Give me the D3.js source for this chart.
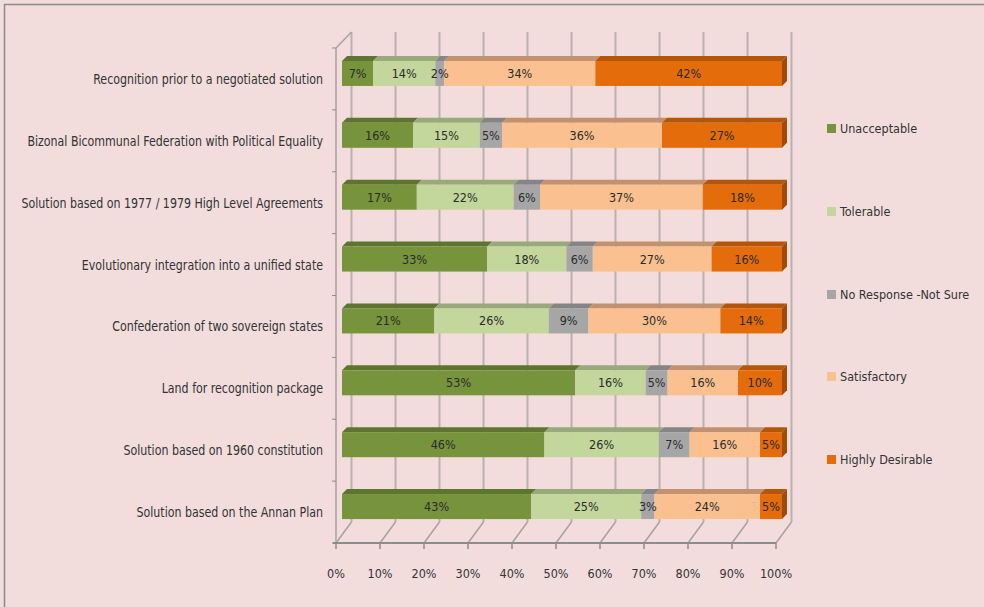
<!DOCTYPE html>
<html><head><meta charset="utf-8">
<script src="https://cdn.jsdelivr.net/npm/d3@7"></script>
<style>
html,body{margin:0;padding:0;background:#F2DDDC;}
svg{display:block;font-family:"Liberation Sans Narrow","DejaVu Sans Condensed",sans-serif;}
</style></head>
<body>
<svg id="chart" width="984" height="607"></svg>
<script>
const categories = [
  "Recognition prior to a negotiated solution",
  "Bizonal Bicommunal Federation with Political Equality",
  "Solution based on 1977 / 1979 High Level Agreements",
  "Evolutionary integration into a unified state",
  "Confederation of two sovereign states",
  "Land for recognition package",
  "Solution based on 1960 constitution",
  "Solution based on the Annan Plan"
];
const seriesNames = ["Unacceptable","Tolerable","No Response -Not Sure","Satisfactory","Highly Desirable"];
const unacceptable = [7,16,17,33,21,53,46,43];
const tolerable    = [14,15,22,18,26,16,26,25];
const noResponse   = [2,5,6,6,9,5,7,3];
const satisfactory = [34,36,37,27,30,16,16,24];
const highly       = [42,27,18,16,14,10,5,5];
const xTickLabels = ["0%","10%","20%","30%","40%","50%","60%","70%","80%","90%","100%"];

const series = [unacceptable, tolerable, noResponse, satisfactory, highly];
const frontColors = ["#77933C","#C3D69B","#A6A6A6","#FAC090","#E46C0A"];
const topColors   = ["#5E7530","#98A97A","#858585","#C4916E","#B45508"];
const sideColors  = ["#4F6328","#8A9A6C","#707070","#B07C5C","#A04C06"];

const svg = d3.select("#chart");
svg.append("rect").attr("x",0).attr("y",0).attr("width",984).attr("height",607).attr("fill","#F2DDDC");
svg.append("path").attr("d","M4.5,607 V4.5 H984").attr("fill","none").attr("stroke","#8C8C8C").attr("stroke-width",1.5);

const floorY = 543, topY = 48;
const depthX = 15.5, depthY = -21;
const x = d3.scaleLinear().domain([0,1]).range([336,776]);
const y = d3.scaleBand().domain(categories).range([topY, floorY]).paddingInner(0).paddingOuter(0);

const barDX = 6, barDY = -5.5, barH = 25, barDepth = 5;

const grid = svg.append("g");
const ticks = d3.range(0, 1.0001, 0.1);
grid.selectAll("line.v").data(ticks).join("line")
  .attr("x1", d => x(d)+depthX).attr("x2", d => x(d)+depthX)
  .attr("y1", topY+depthY+5).attr("y2", floorY+depthY)
  .attr("stroke","#B9B0B0").attr("stroke-width",2);
grid.selectAll("line.d").data(ticks).join("line")
  .attr("x1", d => x(d)).attr("y1", floorY)
  .attr("x2", d => x(d)+depthX).attr("y2", floorY+depthY)
  .attr("stroke","#A8A0A0").attr("stroke-width",1.5);
grid.append("line").attr("x1",x(0)).attr("x2",x(0)).attr("y1",topY).attr("y2",floorY).attr("stroke","#A8A0A0").attr("stroke-width",1.5);
grid.append("line").attr("x1",x(0)).attr("y1",topY).attr("x2",x(0)+depthX).attr("y2",topY+depthY+5).attr("stroke","#A8A0A0").attr("stroke-width",1.5);
grid.append("line").attr("x1",x(0)-3).attr("x2",x(1)).attr("y1",floorY).attr("y2",floorY).attr("stroke","#8C8C8C").attr("stroke-width",2);
grid.selectAll("line.t").data(ticks).join("line")
  .attr("x1", d => x(d)).attr("x2", d => x(d)).attr("y1", floorY).attr("y2", floorY+6)
  .attr("stroke","#8C8C8C").attr("stroke-width",1.5);
grid.selectAll("line.yt").data(d3.range(categories.length+1)).join("line")
  .attr("x1", x(0)-4).attr("x2", x(0))
  .attr("y1", i => topY + i*y.step()).attr("y2", i => topY + i*y.step())
  .attr("stroke","#8C8C8C").attr("stroke-width",1);

svg.append("g").selectAll("text").data(ticks).join("text")
  .attr("x", d => x(d)).attr("y", 578).attr("text-anchor","middle")
  .attr("font-size",12.5).attr("fill","#333")
  .text((d,i) => xTickLabels[i]);

svg.append("g").selectAll("text").data(categories).join("text")
  .attr("transform", d => `translate(323,${y(d)+y.bandwidth()/2 + 5}) scale(0.91,1)`)
  .attr("text-anchor","end").attr("font-size",13.5).attr("fill","#333")
  .text(d => d);

const rows = categories.map((c,i) => {
  const vals = series.map(s => s[i]);
  const total = d3.sum(vals);
  let acc = 0;
  return vals.map((v,k) => { const seg = {cat:c, k, v, x0: acc/total, x1: (acc+v)/total}; acc += v; return seg; });
});

const bars = svg.append("g");
rows.forEach(row => {
  const g = bars.append("g");
  const cy = y(row[0].cat) + y.bandwidth()/2 + barDY;
  const yTop = cy - barH/2;
  row.forEach(seg => {
    const xa = x(seg.x0)+barDX, xb = x(seg.x1)+barDX;
    g.append("path")
      .attr("d", `M${xa},${yTop} L${xa+barDepth},${yTop-barDepth} L${xb+barDepth},${yTop-barDepth} L${xb},${yTop} Z`)
      .attr("fill", topColors[seg.k]);
    g.append("rect").attr("x", xa).attr("y", yTop).attr("width", Math.max(0, xb-xa)).attr("height", barH)
      .attr("fill", frontColors[seg.k]);
  });
  const last = row[row.length-1];
  const xe = x(last.x1)+barDX;
  g.append("path")
    .attr("d", `M${xe},${yTop} L${xe+barDepth},${yTop-barDepth} L${xe+barDepth},${yTop+barH-barDepth} L${xe},${yTop+barH} Z`)
    .attr("fill", sideColors[last.k]);
  row.forEach(seg => {
    const xa = x(seg.x0)+barDX, xb = x(seg.x1)+barDX;
    g.append("text").attr("x",(xa+xb)/2).attr("y", cy+4.5).attr("text-anchor","middle")
      .attr("font-size",12.5).attr("fill","#2b2b2b").text(seg.v + "%");
  });
});

const legY = [129, 212, 295, 377, 460];
const leg = svg.append("g");
seriesNames.forEach((n,k) => {
  leg.append("rect").attr("x",827).attr("y",legY[k]-5).attr("width",9).attr("height",9).attr("fill",frontColors[k]);
  leg.append("text").attr("x",840).attr("y",legY[k]+4).attr("font-size",12.5).attr("fill","#333").text(n);
});
</script>
</body></html>
